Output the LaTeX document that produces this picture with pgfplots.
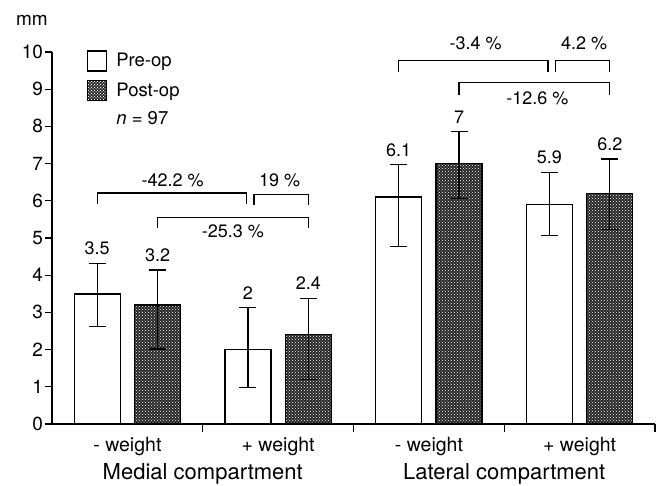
\documentclass[border=0pt]{standalone}
\usepackage{pgfplots}
\pgfplotsset{compat=1.18}
\usepackage{fontspec}
\setmainfont{TeX Gyre Heros}
\usetikzlibrary{patterns}
\newcommand{\fs}[1]{\fontsize{#1}{#1}\selectfont}
\begin{document}
\begin{tikzpicture}
\path[use as bounding box] (-52pt,-61pt) rectangle (608pt,424pt);
\begin{axis}[
  at={(0pt,0pt)}, anchor=south west,
  width=603pt, height=372pt, scale only axis,
  xmin=-0.5, xmax=3.5, ymin=0, ymax=10,
  axis lines=left, axis line style={line width=1.3pt, -},
  clip=false,
  ybar, bar width=0.305,
  ytick={0,1,...,10},
  ytick align=outside, xtick align=outside,
  major tick length=7pt,
  tick style={line width=1.2pt, black},
  xtick={0,1,2,3},
  xticklabels={- weight, + weight, - weight, + weight},
  major x tick style={draw=none},
  minor xtick={0.5,1.5,2.5,3.5},
  minor tick length=8pt,
  minor x tick style={line width=1.2pt, black},
  x tick label style={font=\fs{19.5}, yshift=-3pt},
  y tick label style={font=\fs{19}, xshift=1.5pt},
  /pgf/number format/assume math mode=true,
  legend style={draw=none, fill=none, at={(rel axis cs:0.058,1.005)}, anchor=north west,
    font=\fs{18.5}, row sep=8.5pt, legend cell align=left, inner sep=0pt},
  error bars/y dir=both, error bars/y explicit,
  error bars/error bar style={line width=1.3pt, black},
  error bars/error mark options={line width=1.3pt, black, mark size=8.5pt, rotate=90},
]
\addplot[bar shift=-0.2, draw=black, line width=1.4pt, fill=white,
  legend image code/.code={\draw[line width=1.2pt, fill=white] (0pt,-10pt) rectangle (19pt,10pt);}]
  coordinates {
  (0,3.5) += (0,0.82) -= (0,0.88)
  (1,2.0) += (0,1.13) -= (0,1.02)
  (2,6.1) += (0,0.87) -= (0,1.33)
  (3,5.9) += (0,0.87) -= (0,0.84)
  };
\addlegendentry{\hspace{7pt}Pre-op}
\addplot[bar shift=0.2, draw=black, line width=1.4pt, fill=black!85,
  postaction={pattern=crosshatch dots, pattern color=white},
  legend image code/.code={\draw[line width=1.2pt, fill=black!85, postaction={pattern=crosshatch dots, pattern color=white}] (0pt,-10pt) rectangle (19pt,10pt);}]
  coordinates {
  (0,3.2) += (0,0.94) -= (0,1.18)
  (1,2.4) += (0,0.98) -= (0,1.20)
  (2,7.0) += (0,0.86) -= (0,0.93)
  (3,6.2) += (0,0.92) -= (0,0.98)
  };
\addlegendentry{\hspace{7pt}Post-op}
\addlegendimage{empty legend}
\addlegendentry{\hspace{7pt}\textit{n} = 97}
% value labels above the error bars
\addplot[sharp plot, draw=none, mark=none, forget plot, error bars/y dir=none,
  nodes near coords, point meta=explicit symbolic,
  every node near coord/.style={anchor=base, inner sep=0pt, yshift=8.5pt, font=\fs{18}, black}]
  coordinates {
  (-0.2,4.32) [3.5]
  (0.2,4.14) [3.2]
  (0.8,3.13) [2]
  (1.2,3.38) [2.4]
  (1.8,6.97) [6.1]
  (2.2,7.86) [7]
  (2.8,6.77) [5.9]
  (3.2,7.12) [6.2]
  };
% comparison brackets
\begin{scope}[line width=1.1pt]
\draw (axis cs:-0.2,5.91) -- (axis cs:-0.2,6.21) -- (axis cs:0.79,6.21) -- (axis cs:0.79,5.91);
\draw (axis cs:0.84,5.88) -- (axis cs:0.84,6.18) -- (axis cs:1.2,6.18) -- (axis cs:1.2,5.88);
\draw (axis cs:0.2,5.27) -- (axis cs:0.2,5.56) -- (axis cs:1.2,5.56) -- (axis cs:1.2,5.27);
\draw (axis cs:1.8,9.46) -- (axis cs:1.8,9.78) -- (axis cs:2.79,9.78) -- (axis cs:2.79,9.46);
\draw (axis cs:2.84,9.46) -- (axis cs:2.84,9.76) -- (axis cs:3.2,9.76) -- (axis cs:3.2,9.46);
\draw (axis cs:2.2,8.84) -- (axis cs:2.2,9.17) -- (axis cs:3.2,9.17) -- (axis cs:3.2,8.84);
\end{scope}
\begin{scope}[every node/.style={font=\fs{18}, inner sep=0pt}]
\node at (axis cs:0.3,6.56) {-42.2 \%};
\node at (axis cs:1.01,6.56) {19 \%};
\node at (axis cs:0.70,5.19) {-25.3 \%};
\node at (axis cs:2.31,10.24) {-3.4 \%};
\node at (axis cs:3.03,10.24) {4.2 \%};
\node at (axis cs:2.72,8.76) {-12.6 \%};
\end{scope}
% group titles and unit
\node[font=\fs{22}, anchor=base] at (axis cs:0.5,0) [yshift=-55pt] {Medial compartment};
\node[font=\fs{22}, anchor=base] at (axis cs:2.5,0) [yshift=-55pt] {Lateral compartment};
\node[font=\fs{19}, anchor=base] at (rel axis cs:0,1) [xshift=-20pt, yshift=26pt] {mm};
\end{axis}
\end{tikzpicture}
\end{document}
